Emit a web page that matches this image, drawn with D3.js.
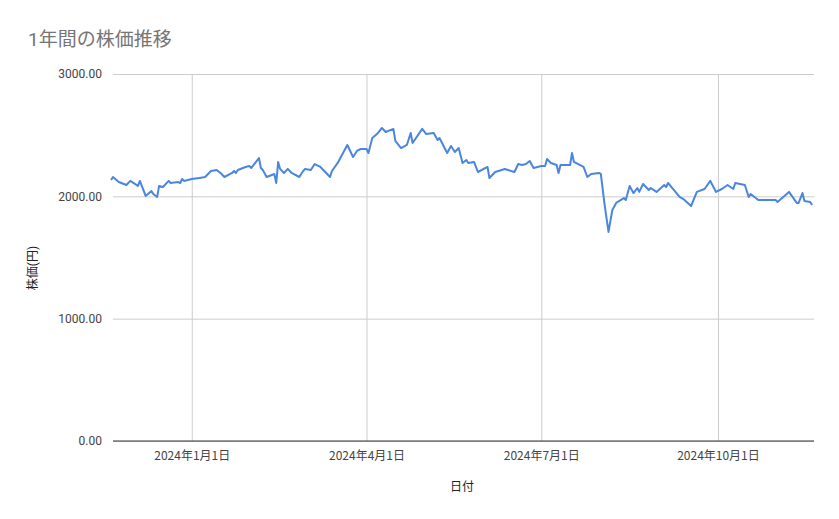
<!DOCTYPE html>
<html><head><meta charset="utf-8">
<script src="https://cdn.jsdelivr.net/npm/d3@7"></script>
<style>body{margin:0;background:#fff;font-family:Roboto,"Noto Sans CJK JP",sans-serif}</style>
</head><body><svg id="c" width="839" height="519"></svg>
<script>
const baseDate = "2024-01-01";
const dayOffsets = [-42,-41,-38,-34,-32,-28,-27,-24,-21,-20,-18,-17,-15,-12,-11,-7,-6,-5,-4,0,4,7,10,13,15,17,21,22,23,24,28,30,31,35,36,37,39,43,44,45,46,48,50,52,56,58,59,62,64,67,72,73,76,81,84,86,88,91,92,94,97,99,101,105,106,109,112,114,115,120,122,126,128,129,133,135,137,139,141,143,144,147,149,154,155,158,163,168,170,172,174,176,178,182,184,185,187,190,191,192,197,198,199,204,206,208,212,213,215,217,219,221,225,226,228,230,232,233,235,238,239,242,246,247,248,251,254,256,260,263,267,270,273,276,279,282,283,288,290,291,295,300,304,305,311,315,316,318,319,322,323];
const prices = [2134,2158,2117,2093,2126,2085,2126,2003,2044,2019,1995,2085,2076,2126,2109,2117,2109,2142,2126,2142,2150,2158,2207,2215,2191,2158,2191,2207,2191,2215,2240,2248,2232,2313,2232,2215,2158,2183,2109,2281,2224,2191,2224,2191,2158,2207,2224,2215,2264,2240,2158,2207,2273,2420,2322,2371,2387,2387,2354,2477,2518,2559,2526,2551,2453,2395,2420,2518,2436,2551,2510,2518,2461,2477,2354,2412,2363,2395,2273,2297,2273,2281,2199,2240,2150,2199,2224,2199,2264,2256,2264,2289,2232,2248,2248,2305,2273,2256,2191,2256,2256,2354,2281,2240,2158,2183,2191,2183,1929,1709,1888,1946,1986,1970,2085,2027,2068,2036,2101,2052,2068,2036,2093,2076,2109,2052,1995,1978,1921,2036,2060,2126,2036,2060,2093,2060,2109,2093,1995,2019,1970,1970,1970,1954,2036,1946,1946,2027,1962,1954,1929];
const yTicks = [0,1000,2000,3000];
const xTickDates = ["2024-01-01","2024-04-01","2024-07-01","2024-10-01"];
const xTickLabels = ["2024年1月1日","2024年4月1日","2024年7月1日","2024年10月1日"];

const parse = d3.utcParse("%Y-%m-%d");
const b = parse(baseDate);
const data = dayOffsets.map((o,i)=>({date:d3.utcDay.offset(b,o), v:prices[i]}));
const svg = d3.select("#c");
const L=113,R=814,T=74,B=441;
const x = d3.scaleUtc().domain([d3.utcDay.offset(b,-40.2), d3.utcDay.offset(b,324.5)]).range([L,R]);
const y = d3.scaleLinear().domain([0,3000]).range([B,T]);

svg.append("text").attr("x",28).attr("y",46).attr("font-size",19).attr("fill","#757575").text("1年間の株価推移");

const gy = svg.append("g").attr("transform",`translate(${L},0)`)
  .call(d3.axisLeft(y).tickValues(yTicks).tickSize(-(R-L)).tickFormat(d3.format(".2f")));
gy.select(".domain").remove();
gy.selectAll("line").attr("stroke","#cccccc");
gy.selectAll("text").attr("x",-11).attr("font-size",12).attr("fill","#444").attr("font-family","Roboto");

const gx = svg.append("g").attr("transform",`translate(0,${B})`)
  .call(d3.axisBottom(x).tickValues(xTickDates.map(parse)).tickSize(-(B-T)).tickFormat((d,i)=>xTickLabels[i]));
gx.select(".domain").remove();
gx.selectAll("line").attr("stroke","#cccccc");
gx.selectAll("text").attr("y",10).attr("font-size",12).attr("fill","#444").attr("font-family","'Noto Sans CJK JP'");
svg.append("line").attr("x1",L).attr("x2",R).attr("y1",B).attr("y2",B).attr("stroke","#333");

svg.append("path").datum(data).attr("fill","none").attr("stroke","#4a86e0").attr("stroke-width",2).attr("stroke-linejoin","round")
  .attr("d",d3.line().x(d=>x(d.date)).y(d=>y(d.v)));

svg.append("text").attr("x",462).attr("y",491).attr("text-anchor","middle").attr("font-size",12).attr("fill","#222").text("日付");
svg.append("text").attr("transform","translate(37,268) rotate(-90)").attr("text-anchor","middle").attr("font-size",12).attr("fill","#222").text("株価(円)");
</script></body></html>
